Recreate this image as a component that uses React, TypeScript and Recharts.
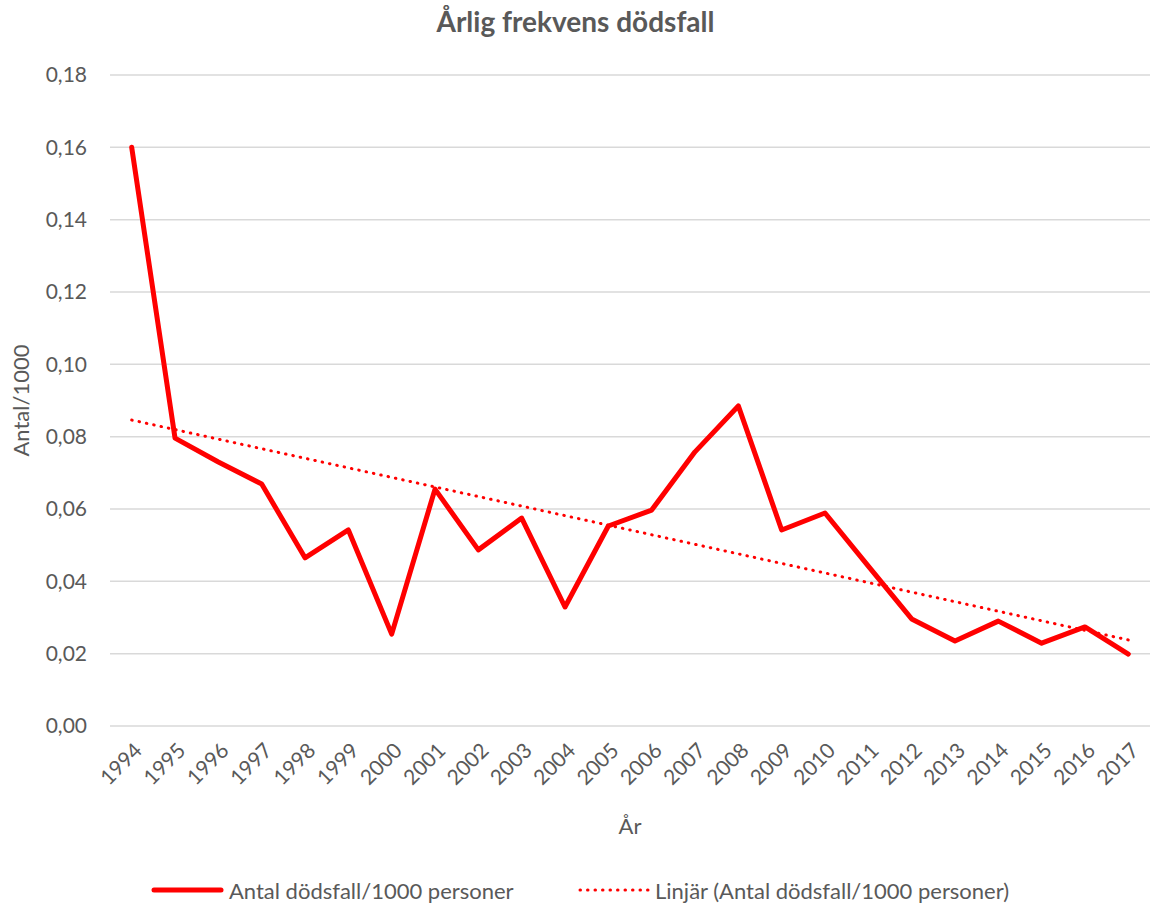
import React from 'react';
import { LineChart, Line, XAxis, YAxis, CartesianGrid, ReferenceLine, Legend } from 'recharts';

const years = ['1994','1995','1996','1997','1998','1999','2000','2001','2002','2003','2004','2005','2006','2007','2008','2009','2010','2011','2012','2013','2014','2015','2016','2017'];
const deaths = [0.160,0.0796,0.0730,0.0669,0.0465,0.0542,0.0254,0.0655,0.0487,0.0575,0.0329,0.0553,0.0597,0.0758,0.0885,0.0542,0.0589,0.0442,0.0296,0.0235,0.0290,0.0229,0.0274,0.0199];
const trendStart = 0.0846;
const trendEnd = 0.0238;
const yTicks = [0,0.02,0.04,0.06,0.08,0.10,0.12,0.14,0.16,0.18];
const seriesName = 'Antal dödsfall/1000 personer';
const trendName = 'Linjär (Antal dödsfall/1000 personer)';

const data = years.map((y, i) => ({ year: y, v: deaths[i] }));

const FONT = 'Lato, "Open Sans", sans-serif';
const GREY = '#595959';
const RED = '#ff0000';

const XTick = (props: any) => {
  const { x, y, payload } = props;
  return (
    <text
      transform={`translate(${x + 8},${y + 20}) rotate(-45)`}
      textAnchor="end"
      fill={GREY}
      fontSize={21}
      fontFamily={FONT}
      dominantBaseline="middle"
    >
      {payload.value}
    </text>
  );
};

const renderLegend = () => (
  <svg width={1151} height={60} style={{ display: 'block' }}>
    <line x1={154} x2={221} y1={42} y2={42} stroke={RED} strokeWidth={5} strokeLinecap="round" />
    <text x={229} y={42} fill={GREY} fontSize={22} fontFamily={FONT} dominantBaseline="central">{seriesName}</text>
    <line x1={580} x2={648} y1={42} y2={42} stroke={RED} strokeWidth={3} strokeDasharray="0.5 7" strokeLinecap="round" />
    <text x={655} y={42} fill={GREY} fontSize={22} fontFamily={FONT} dominantBaseline="central">{trendName}</text>
  </svg>
);

export default function App() {
  return (
    <div style={{ position: 'absolute', left: 0, top: 0, width: 1151, height: 908, background: '#fff' }}>
      <div style={{ position: 'absolute', left: 0, top: 4, width: 1151, textAlign: 'center', fontFamily: FONT, fontWeight: 700, fontSize: 28, color: GREY }}>
        Årlig frekvens dödsfall
      </div>
      <LineChart width={1151} height={908} data={data} margin={{ top: 75, right: 1, left: 0, bottom: 0 }}>
        <CartesianGrid vertical={false} stroke="#d9d9d9" strokeWidth={1.5} />
        <XAxis
          dataKey="year"
          axisLine={false}
          tickLine={false}
          tickSize={0}
          interval={0}
          height={122}
          padding={{ left: 21.7, right: 21.7 }}
          tick={<XTick />}
          label={{ value: 'År', position: 'insideBottom', offset: 14, fill: GREY, fontSize: 22, fontFamily: FONT }}
        />
        <YAxis
          domain={[0, 0.18]}
          ticks={yTicks}
          width={110}
          axisLine={false}
          tickLine={false}
          tickSize={0}
          tickMargin={23}
          tickFormatter={(v: number) => v.toFixed(2).replace('.', ',')}
          tick={{ fill: GREY, fontSize: 21, fontFamily: FONT }}
          label={{ value: 'Antal/1000', angle: -90, position: 'insideLeft', offset: 21, style: { textAnchor: 'middle' }, fill: GREY, fontSize: 22, fontFamily: FONT }}
        />
        <ReferenceLine
          segment={[{ x: '1994', y: trendStart }, { x: '2017', y: trendEnd }]}
          stroke={RED}
          strokeWidth={3}
          strokeDasharray="0.5 7"
          strokeLinecap="round"
        />
        <Line
          type="linear"
          dataKey="v"
          name={seriesName}
          stroke={RED}
          strokeWidth={5}
          strokeLinejoin="round"
          strokeLinecap="round"
          dot={false}
          activeDot={false}
          isAnimationActive={false}
        />
        <Legend verticalAlign="bottom" height={60} content={renderLegend} wrapperStyle={{ left: 0, bottom: 0, width: 1151, height: 60 }} />
      </LineChart>
    </div>
  );
}
